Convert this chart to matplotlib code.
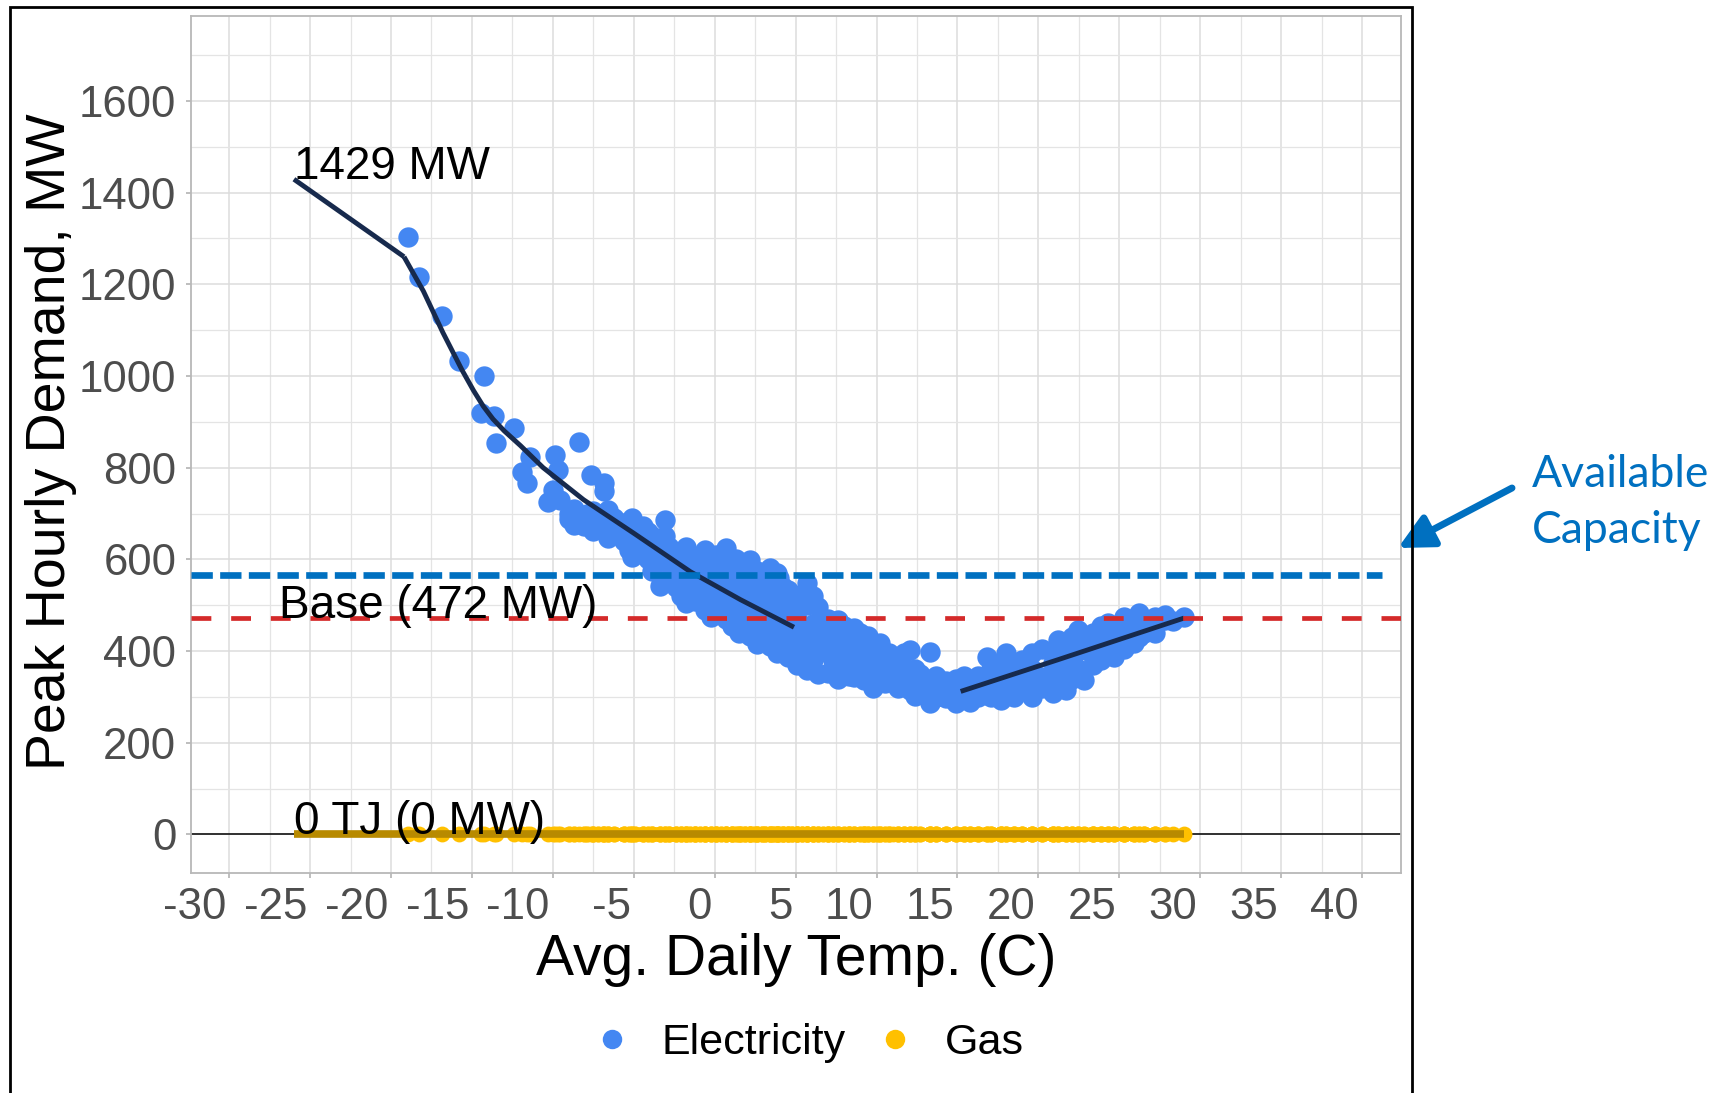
import matplotlib
matplotlib.use("Agg")
import matplotlib.pyplot as plt
from matplotlib.lines import Line2D
from matplotlib.patches import Rectangle, FancyArrowPatch
from matplotlib.ticker import MultipleLocator, FixedLocator
from matplotlib.transforms import ScaledTranslation

# ---------------- data ----------------
temps = [
    -18.95, -18.26, -16.83, -15.78, -14.28, -14.44, -13.65, -12.39, -13.49, -11.44, -11.91, -11.6,
    -9.87, -9.71, -8.38, -10.02, -9.55, -10.3, -7.66, -6.87, -6.87,
    -9.0, -9.0, -8.7, -8.7, -8.1, -8.1, -7.5, -7.5, -7.5, -7.2, -7.2,
    -6.6, -6.6, -6.6, -6.2, -6.2, -5.6, -5.6, -5.6, -5.1, -5.1, -5.1, -4.9, -4.9,
    -4.4, -4.4, -4.4, -3.9, -3.9, -3.9, -3.4, -3.4, -3.4, -3.1, -3.1, -3.1,
    -2.8, -2.8, -2.8, -2.4, -2.4, -2.4, -1.8, -1.8, -1.8, -1.8,
    -1.2, -1.2, -1.2, -1.2, -0.6, -0.6, -0.6, -0.6, -0.25, -0.25, -0.25,
    0.1, 0.1, 0.1, 0.1, 0.7, 0.7, 0.7, 0.7, 1.1, 1.1, 1.1, 1.1,
    1.5, 1.5, 1.5, 1.6, 1.6, 2.2, 2.2, 2.2, 2.2, 2.2,
    2.6, 2.6, 2.6, 2.6, 2.9, 2.9, 2.9, 3.4, 3.4, 3.4, 3.4,
    3.85, 3.85, 3.85, 3.85, 3.85, 4.2, 4.2, 4.2, 4.2, 4.5, 4.5, 4.5, 4.5,
    5.1, 5.1, 5.1, 5.1, 5.1, 5.7, 5.7, 5.7, 5.7, 5.7,
    6.1, 6.1, 6.1, 6.1, 6.4, 6.4, 6.4, 7.0, 7.0, 7.0, 7.0,
    7.3, 7.3, 7.3, 7.6, 7.6, 7.6, 8.3, 8.3, 8.3, 8.3,
    8.6, 8.6, 8.6, 9.2, 9.2, 9.2, 9.2, 9.5, 9.5, 9.5,
    9.8, 9.8, 9.8, 10.2, 10.2, 10.2, 10.5, 10.5, 10.8, 10.8, 10.8,
    11.3, 11.3, 11.3, 11.7, 11.7, 11.7, 12.05, 12.05, 12.05,
    12.4, 12.4, 12.4, 12.7, 12.7, 13.3, 13.3, 13.3, 13.3,
    13.7, 13.7, 13.7, 14.3, 14.3, 14.3, 14.9, 14.9, 14.9,
    15.4, 15.4, 15.4, 15.8, 15.8, 15.8, 16.3, 16.3, 16.3,
    16.8, 16.8, 16.8, 17.1, 17.1, 17.1, 17.7, 17.7, 17.7, 17.7,
    18.0, 18.0, 18.0, 18.5, 18.5, 18.5, 19.0, 19.0, 19.0,
    19.6, 19.6, 19.6, 19.6, 20.25, 20.25, 20.25,
    20.9, 20.9, 20.9, 20.9, 21.2, 21.2, 21.2, 21.7, 21.7, 21.7,
    22.1, 22.1, 22.1, 22.45, 22.45, 22.45, 22.8, 22.8,
    23.4, 23.4, 23.4, 23.4, 23.9, 23.9, 23.9, 24.3, 24.3, 24.3,
    24.7, 24.7, 24.7, 25.3, 25.3, 25.3, 25.3, 25.9, 25.9, 25.9,
    26.2, 26.2, 26.55, 26.55, 26.55, 27.2, 27.2, 27.2,
    27.8, 27.8, 28.3, 29.0,
    -7.9, -7.9, -6.9, -6.9, -5.3, -5.3, -4.1, -4.1, -2.1, -2.1, -2.1, -1.5, -1.5,
    -0.9, -0.9, 0.4, 0.4, 1.3, 1.3, 1.9, 1.9, 1.9, 2.4, 2.4,
    3.1, 3.1, 3.1, 3.6, 3.6, 3.6, 4.0, 4.0, 4.8, 4.8, 4.8,
    5.4, 5.4, 5.4, 6.7, 6.7, 8.0, 8.0, 9.0, 9.0, 10.0, 10.0, 11.0,
]
electricity_mw = [
    1304, 1215, 1130, 1033, 999, 919, 912, 886, 853, 824, 791, 766,
    828, 795, 855, 752, 730, 726, 784, 766, 748,
    700, 688, 710, 676, 695, 672, 661, 690, 705, 693, 680,
    708, 660, 646, 690, 672, 680, 655, 640, 690, 657, 606, 628, 645,
    672, 640, 615, 650, 600, 575, 541, 630, 600, 686, 650, 620,
    628, 590, 560, 584, 610, 540, 628, 562, 504, 530,
    533, 600, 575, 510, 621, 599, 560, 490, 475, 540, 580,
    555, 610, 520, 500, 624, 512, 590, 470, 580, 545, 490, 455,
    439, 584, 510, 541, 470, 599, 562, 520, 461, 432,
    575, 500, 440, 415, 432, 545, 480, 581, 530, 470, 410,
    570, 468, 500, 395, 440, 410, 540, 520, 450, 533, 388, 480, 430,
    512, 432, 470, 400, 370, 548, 500, 359, 420, 390,
    460, 430, 380, 520, 497, 395, 350, 470, 352, 420, 400,
    381, 445, 360, 468, 420, 340, 432, 400, 370, 345,
    344, 450, 390, 337, 415, 380, 360, 432, 350, 395,
    319, 400, 375, 417, 340, 365, 381, 330, 337, 395, 360,
    350, 320, 385, 359, 330, 395, 403, 340, 315,
    301, 360, 330, 323, 350, 399, 286, 330, 310,
    300, 320, 345, 315, 297, 335, 286, 310, 340,
    300, 325, 345, 308, 290, 330, 300, 345, 320,
    388, 330, 305, 337, 360, 300, 294, 320, 350, 375,
    395, 310, 340, 300, 365, 330, 315, 345, 380,
    395, 300, 360, 330, 344, 405, 320,
    308, 375, 350, 400, 424, 330, 390, 360, 410, 315,
    381, 430, 340, 446, 400, 360, 337, 420,
    417, 440, 370, 390, 455, 400, 380, 461, 420, 440,
    388, 450, 410, 475, 430, 455, 405, 417, 465, 445,
    483, 430, 439, 470, 455, 453, 475, 440,
    468, 478, 465, 474,
    700, 680, 700, 670, 670, 620, 660, 600, 600, 560, 520, 590, 550,
    515, 545, 585, 535, 600, 520, 490, 575, 455, 545, 480,
    510, 560, 450, 425, 490, 545, 470, 560, 505, 455, 410,
    440, 525, 385, 445, 410, 385, 455, 400, 440, 350, 390, 372,
]
gas_mw = [0 for _ in temps]   # gas demand read as 0 on every day

# fitted model lines
fit_extrap_x = [-26.0, -19.2]
fit_extrap_y = [1429, 1260]
fit_heat_x = [-19.2, -18.0, -16.8, -15.6, -14.9, -14.3, -13.7, -13.0, -12.0, -10.6,
              -8.1, -5.0, -1.5, 1.6, 4.9]
fit_heat_y = [1260, 1185, 1095, 1012, 968, 934, 906, 880, 848, 800,
              730, 657, 573, 512, 452]
fit_cool_x = [15.2, 21.2, 29.0]
fit_cool_y = [312, 381, 472]
gas_fit_x = [-26.0, 29.0]
gas_fit_y = [0, 0]

base_load = 472
available_capacity = 565
capacity_end_x = 41.25

x_ticks = list(range(-30, 45, 5))
y_ticks = list(range(0, 1800, 200))
xlim = (-32.36, 42.39)
ylim = (-84, 1785)

series_names = ["Electricity", "Gas"]
series_colors = ["#4487F2", "#FFC000"]

# ---------------- figure ----------------
W, H = 1733, 1093
fig = plt.figure(figsize=(W / 100, H / 100), dpi=100)
fig.patch.set_facecolor("white")

def fx(px):
    return px / W

def fy(py):
    return 1 - py / H

FONT = ["Liberation Sans", "DejaVu Sans"]
plt.rcParams["font.family"] = FONT

ax = fig.add_axes([fx(191), fy(873), (1400.7 - 191) / W, (873 - 16) / H])
ax.set_xlim(*xlim)
ax.set_ylim(*ylim)

ax.xaxis.set_major_locator(FixedLocator(x_ticks))
ax.yaxis.set_major_locator(FixedLocator(y_ticks))
ax.xaxis.set_minor_locator(MultipleLocator(2.5))
ax.yaxis.set_minor_locator(MultipleLocator(100))
ax.grid(which="major", color="#DCDCDC", lw=1.1, zorder=0)
ax.grid(which="minor", color="#E4E4E4", lw=0.9, zorder=0)
ax.set_axisbelow(True)
for s in ax.spines.values():
    s.set_color("#B8B8B8")
    s.set_linewidth(1.3)

ax.tick_params(which="major", length=3.6, width=1.2, color="#B3B3B3",
               labelsize=31.5, labelcolor="#4D4D4D")
ax.tick_params(axis="y", which="major", pad=7)
ax.tick_params(axis="x", which="major", pad=6.3)
ax.tick_params(which="minor", length=0)
ax.set_xticklabels([str(t) for t in x_ticks])
ax.set_yticklabels([str(t) for t in y_ticks])
shift = ScaledTranslation(-3 / 100, 0, fig.dpi_scale_trans)
for lab in ax.get_xticklabels():
    lab.set_ha("right")
    lab.set_transform(lab.get_transform() + shift)

# zero line
ax.axhline(0, color="black", lw=1.1, zorder=1)

# points
ax.scatter(temps, electricity_mw, s=215, color=series_colors[0], linewidths=0, zorder=2)
ax.scatter(temps, gas_mw, s=130, color=series_colors[1], linewidths=0, zorder=2)

# fitted lines
navy = "#172A4D"
for xs, ys in [(fit_extrap_x, fit_extrap_y), (fit_heat_x, fit_heat_y), (fit_cool_x, fit_cool_y)]:
    ax.plot(xs, ys, color=navy, lw=3.5, solid_capstyle="butt", solid_joinstyle="round", zorder=3)
ax.plot(gas_fit_x, gas_fit_y, color="#B88A00", lw=5.5, solid_capstyle="butt", zorder=3)

# base load line
ax.plot(xlim, [base_load, base_load], color="#D42A2A", lw=3.4,
        dashes=(4.2, 4.2), dash_capstyle="butt", zorder=4)
# available capacity (overlay)
ax.plot([xlim[0], capacity_end_x], [available_capacity, available_capacity],
        color="#0070C0", lw=4.8, dashes=(3.2, 1.1), dash_capstyle="butt",
        zorder=5, clip_on=False)

# annotations
ax.text(-26.0, 1429, "1429 MW", fontsize=33, color="black", ha="left", va="baseline", zorder=6)
ax.text(-26.9, base_load, f"Base ({base_load} MW)", fontsize=33, color="black",
        ha="left", va="baseline", zorder=6)
ax.text(-26.0, 0, "0 TJ (0 MW)", fontsize=33, color="black", ha="left", va="baseline", zorder=6)

# axis titles
fig.text(fx(65), fy(442), "Peak Hourly Demand, MW", rotation=90, rotation_mode="anchor",
         ha="center", va="baseline", fontsize=40, color="black")
fig.text(fx(796), fy(975), "Avg. Daily Temp. (C)", ha="center", va="baseline",
         fontsize=41, color="black")

# legend
handles = [Line2D([], [], ls="none", marker="o", markersize=14, markeredgewidth=0,
                  color=c) for c in series_colors]
fig.legend(handles, series_names, loc="center", bbox_to_anchor=(fx(807), fy(1043)),
           ncol=2, frameon=False, fontsize=31, handlelength=1.0, handletextpad=0.66,
           columnspacing=0.64, borderpad=0, borderaxespad=0)

# PowerPoint-style overlay: arrow + text
arrow = FancyArrowPatch((fx(1512), fy(488)), (fx(1398), fy(548)),
                        transform=fig.transFigure, arrowstyle="-|>,head_length=0.7,head_width=0.35",
                        mutation_scale=30, color="#0070C0", lw=5, shrinkA=0, shrinkB=0)
fig.add_artist(arrow)
PP_FONT = ["Lato", "DejaVu Sans"]
fig.text(fx(1532), fy(487), "Available", fontsize=32, color="#0070C0",
         ha="left", va="baseline", family=PP_FONT)
fig.text(fx(1532), fy(543), "Capacity", fontsize=32, color="#0070C0",
         ha="left", va="baseline", family=PP_FONT)

# outer frame
frame = Rectangle((fx(10), -0.2), (1411.7 - 10) / W, fy(6.7) + 0.2,
                  transform=fig.transFigure, fill=False, edgecolor="black", lw=2.0)
fig.add_artist(frame)

fig.savefig("out.png", dpi=100, facecolor="white")
